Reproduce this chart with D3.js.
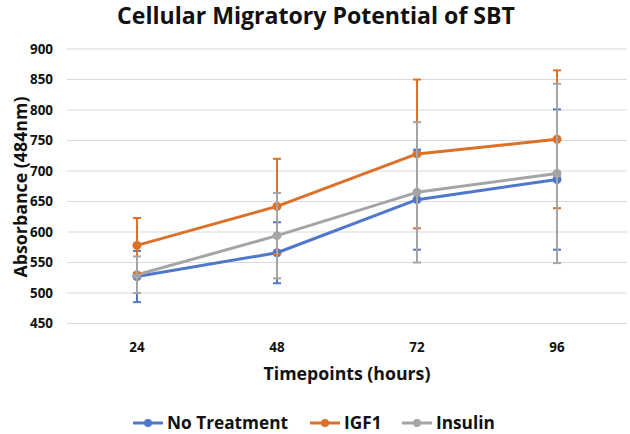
<!DOCTYPE html>
<html>
<head>
<meta charset="utf-8">
<script src="https://cdn.jsdelivr.net/npm/d3@7"></script>
<style>
  body { margin: 0; background: #fff; }
  svg text { font-family: "Open Sans", Lato, sans-serif; font-weight: bold; fill: #111; }
</style>
</head>
<body>
<div id="chart"></div>
<script>
var categories = ['24', '48', '72', '96'];
var yTicks = [450, 500, 550, 600, 650, 700, 750, 800, 850, 900];
var seriesNames = ['No Treatment', 'IGF1', 'Insulin'];
var noTreatment = [527, 566, 653, 686];
var noTreatmentErr = [42, 50, 82, 115];
var igf1 = [578, 642, 728, 752];
var igf1Err = [45, 78, 122, 113];
var insulin = [530, 594, 665, 696];
var insulinErr = [30, 70, 115, 147];
var colors = ['#4F78CC', '#DC7129', '#A5A5A5'];

// shrink/grow a text so that it spans roughly the given width
function fitText(sel, target) {
    var node = sel.node(), size = parseFloat(sel.style('font-size')),
        w = node.getComputedTextLength();
    if (w > 0) sel.style('font-size', (size * target / w).toFixed(2) + 'px');
    return sel;
}

window.addEventListener('load', function() {
    var width = 630, height = 434,
        svg = d3.select('#chart').append('svg')
            .attr('width', width).attr('height', height),
        x = d3.scaleBand().domain(categories).range([67, 627]),
        y = d3.scaleLinear().domain([450, 900]).range([323.5, 49]),
        series = [
            {name: seriesNames[0], values: noTreatment, err: noTreatmentErr, color: colors[0]},
            {name: seriesNames[1], values: igf1, err: igf1Err, color: colors[1]},
            {name: seriesNames[2], values: insulin, err: insulinErr, color: colors[2]}
        ],
        cx = function(i) { return x(categories[i]) + x.bandwidth() / 2; };

    // gridlines
    svg.append('g').selectAll('line').data(yTicks).enter().append('line')
        .attr('x1', 67).attr('x2', 627)
        .attr('y1', function(d) { return y(d); })
        .attr('y2', function(d) { return y(d); })
        .attr('stroke', '#D9D9D9').attr('stroke-width', 1);

    // y tick labels
    var yl = svg.append('g').selectAll('text').data(yTicks).enter().append('text')
        .attr('x', 53).attr('y', function(d) { return y(d); })
        .attr('dy', '0.35em').attr('text-anchor', 'end')
        .style('font-size', '14px')
        .text(function(d) { return d; });
    var ySize = 14 * 23 / yl.node().getComputedTextLength();
    yl.style('font-size', ySize + 'px');

    // x tick labels
    svg.append('g').selectAll('text').data(categories).enter().append('text')
        .attr('x', function(d, i) { return cx(i); }).attr('y', 347)
        .attr('dy', '0.35em').attr('text-anchor', 'middle')
        .style('font-size', ySize + 'px')
        .text(function(d) { return d; });

    var line = d3.line()
        .x(function(d, i) { return cx(i); })
        .y(function(d) { return y(d); });

    series.forEach(function(s) {
        var g = svg.append('g');
        g.append('path').datum(s.values)
            .attr('d', line).attr('fill', 'none')
            .attr('stroke', s.color).attr('stroke-width', 3)
            .attr('stroke-linejoin', 'round').attr('stroke-linecap', 'round');
        g.selectAll('circle').data(s.values).enter().append('circle')
            .attr('cx', function(d, i) { return cx(i); })
            .attr('cy', function(d) { return y(d); })
            .attr('r', 4.5).attr('fill', s.color);
    });

    // error bars on top, in series order
    series.forEach(function(s) {
        var g = svg.append('g').attr('stroke', s.color).attr('stroke-width', 2);
        s.values.forEach(function(v, i) {
            var top = y(v + s.err[i]), bot = y(v - s.err[i]), c = cx(i);
            g.append('line').attr('x1', c).attr('x2', c).attr('y1', top).attr('y2', bot);
            g.append('line').attr('x1', c - 4).attr('x2', c + 4).attr('y1', top).attr('y2', top);
            g.append('line').attr('x1', c - 4).attr('x2', c + 4).attr('y1', bot).attr('y2', bot);
        });
    });

    // titles
    fitText(svg.append('text').attr('x', 316).attr('y', 16).attr('dy', '0.35em')
        .attr('text-anchor', 'middle').style('font-size', '22px')
        .text('Cellular Migratory Potential of SBT'), 398);
    fitText(svg.append('text').attr('x', 347).attr('y', 374).attr('dy', '0.35em')
        .attr('text-anchor', 'middle').style('font-size', '17px')
        .text('Timepoints (hours)'), 167);
    fitText(svg.append('text')
        .attr('transform', 'translate(21,187) rotate(-90)').attr('dy', '0.35em')
        .attr('text-anchor', 'middle').style('font-size', '17px')
        .text('Absorbance (484nm)'), 181);

    // legend
    var legendX = [133, 310, 402];
    var lg = svg.append('g').selectAll('g').data(series).enter().append('g')
        .attr('transform', function(d, i) { return 'translate(' + legendX[i] + ',423)'; });
    lg.append('line').attr('x1', 0).attr('x2', 30)
        .attr('stroke', function(d) { return d.color; }).attr('stroke-width', 3);
    lg.append('circle').attr('cx', 15).attr('r', 4)
        .attr('fill', function(d) { return d.color; });
    var lt = lg.append('text').attr('x', 34).attr('dy', '0.35em')
        .style('font-size', '17px')
        .text(function(d) { return d.name; });
    var lSize = 17 * 121 / lt.node().getComputedTextLength();
    lt.style('font-size', lSize + 'px');
});
</script>
</body>
</html>
